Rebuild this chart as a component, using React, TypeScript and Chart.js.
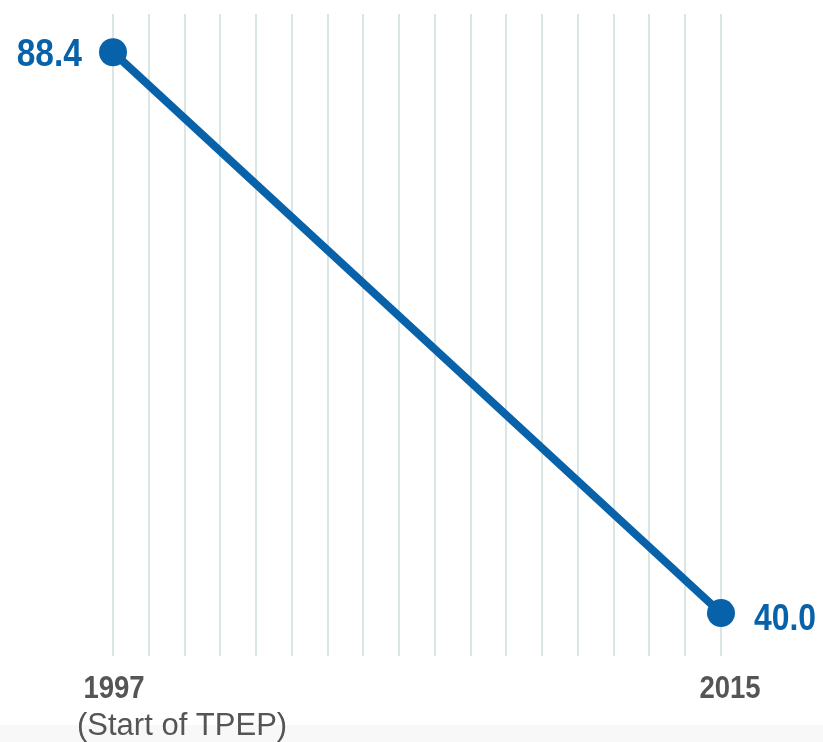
import React, { useEffect, useRef } from "react";
import { Chart, registerables } from "chart.js";
Chart.register(...registerables);

const years = [1997, 2015];
const values = [88.4, 40.0];
const valueLabels = ["88.4", "40.0"];
const tickLabels = ["1997", "2015"];
const subLabel = "(Start of TPEP)";
const gridLineCount = 18;

const BLUE = "#0762aa";
const GREY_TEXT = "#555555";
const SANS = "'Liberation Sans', Arial, sans-serif";
const SQUEEZE = 0.86;

function narrowText(ctx: CanvasRenderingContext2D, text: string, x: number, y: number, align: "left" | "right" | "center") {
  const w = ctx.measureText(text).width * SQUEEZE;
  let left = x;
  if (align === "right") left = x - w;
  else if (align === "center") left = x - w / 2;
  ctx.save();
  ctx.textAlign = "left";
  ctx.translate(left, y);
  ctx.scale(SQUEEZE, 1);
  ctx.fillText(text, 0, 0);
  ctx.restore();
}

export default function App() {
  const ref = useRef<HTMLCanvasElement>(null);
  useEffect(() => {
    if (!ref.current) return;
    const labelPlugin = {
      id: "customLabels",
      beforeDraw(chart: any) {
        const { ctx, width, height } = chart;
        ctx.save();
        ctx.fillStyle = "#ffffff";
        ctx.fillRect(0, 0, width, height);
        ctx.fillStyle = "#f8f8f8";
        ctx.fillRect(0, 725, width, height - 725);
        ctx.restore();
      },
      afterDatasetsDraw(chart: any) {
        const { ctx } = chart;
        const xs = chart.scales.x;
        const ys = chart.scales.y;
        ctx.save();
        ctx.textBaseline = "alphabetic";
        // value labels
        ctx.fillStyle = BLUE;
        ctx.font = `bold 39px ${SANS}`;
        const p0x = xs.getPixelForValue(years[0]);
        const p0y = ys.getPixelForValue(values[0]);
        narrowText(ctx, valueLabels[0], p0x - 31, p0y + 14, "right");
        const p1x = xs.getPixelForValue(years[1]);
        const p1y = ys.getPixelForValue(values[1]);
        ctx.font = `bold 37px ${SANS}`;
        narrowText(ctx, valueLabels[1], p1x + 33, p1y + 17, "left");
        // axis labels
        ctx.fillStyle = GREY_TEXT;
        ctx.font = `bold 32px ${SANS}`;
        narrowText(ctx, tickLabels[0], p0x + 1, 698, "center");
        narrowText(ctx, tickLabels[1], p1x + 9, 698, "center");
        ctx.font = `31px ${SANS}`;
        ctx.textAlign = "left";
        ctx.fillText(subLabel, 77, 735);
        ctx.restore();
      },
    };
    const chart = new Chart(ref.current, {
      type: "line",
      data: {
        datasets: [
          {
            data: years.map((yr, i) => ({ x: yr, y: values[i] })),
            borderColor: BLUE,
            backgroundColor: BLUE,
            borderWidth: 8,
            pointRadius: 14,
            pointBackgroundColor: BLUE,
            pointBorderWidth: 0,
            clip: false,
          } as any,
        ],
      },
      options: {
        animation: false,
        responsive: false,
        layout: { padding: { left: 113, right: 102, top: 10, bottom: 86 } },
        plugins: { legend: { display: false }, tooltip: { enabled: false } },
        scales: {
          x: {
            type: "linear",
            min: years[0],
            max: years[1],
            afterBuildTicks(axis: any) {
              const span = years[1] - years[0];
              axis.ticks = Array.from({ length: gridLineCount }, (_, i) => ({
                value: years[0] + (i * span) / (gridLineCount - 1),
              }));
            },
            ticks: { display: false },
            grid: { color: "#d9e6e3", lineWidth: 2, drawTicks: false },
            border: { display: false },
          },
          y: { display: false, min: 36.3, max: 91.7 },
        },
      },
      plugins: [labelPlugin],
    });
    return () => chart.destroy();
  }, []);
  return (
    <div style={{ position: "fixed", left: 0, top: 0, width: 823, height: 742 }}>
      <canvas ref={ref} width={823} height={742} style={{ display: "block" }} />
    </div>
  );
}
